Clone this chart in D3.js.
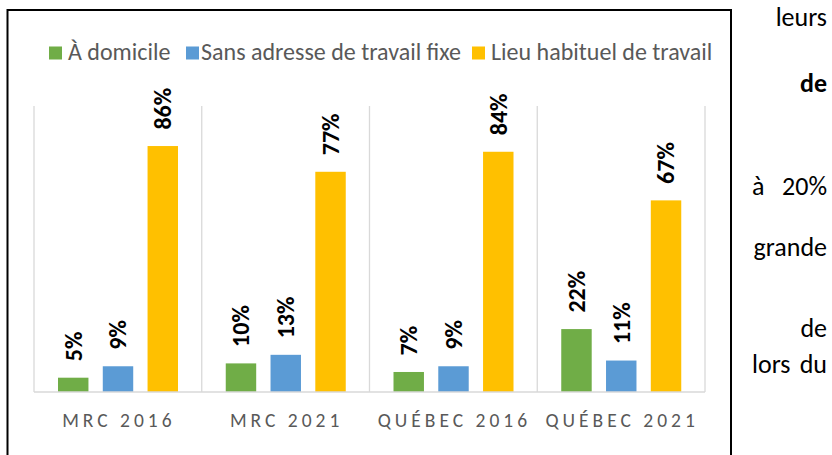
<!DOCTYPE html>
<html><head><meta charset="utf-8">
<script src="https://cdn.jsdelivr.net/npm/d3@7"></script>
<style>
body{margin:0;background:#fff;}
svg{display:block;}
</style></head>
<body>
<svg id="c" width="832" height="455"></svg>
<script>
const categories = ["MRC 2016", "MRC 2021", "QUÉBEC 2016", "QUÉBEC 2021"];
const seriesNames = ["À domicile", "Sans adresse de travail fixe", "Lieu habituel de travail"];
const domicile = [5, 10, 7, 22];
const sansAdresse = [9, 13, 9, 11];
const lieuHabituel = [86, 77, 84, 67];
const colors = ["#70AD47", "#5B9BD5", "#FFC000"];
const sideLines = [
  {w: ["leurs"], y: 26, b: false},
  {w: ["de"], y: 92, b: true},
  {w: ["à", "20%"], y: 195, b: false},
  {w: ["grande"], y: 256, b: false},
  {w: ["de"], y: 337, b: false},
  {w: ["lors", "du"], y: 373, b: false}
];

const FONT = "Carlito, Calibri, Lato, sans-serif";
const svg = d3.select("#c");
const series = [domicile, sansAdresse, lieuHabituel];

// chart border
svg.append("rect").attr("x", 7.5).attr("y", 10).attr("width", 723.5).attr("height", 470)
  .attr("fill", "#fff").attr("stroke", "#000").attr("stroke-width", 2);

const x0 = d3.scaleBand().domain(categories).range([34, 705]).paddingInner(0).paddingOuter(0);
const x1 = d3.scaleBand().domain(d3.range(3)).range([24, 144]).paddingInner(0.32).paddingOuter(0);
const y = d3.scaleLinear().domain([0, 100]).range([392, 106]);

// separators
const seps = d3.range(categories.length + 1);
svg.append("g").selectAll("line").data(seps).join("line")
  .attr("x1", i => i < categories.length ? x0(categories[i]) : x0.range()[1])
  .attr("x2", i => i < categories.length ? x0(categories[i]) : x0.range()[1])
  .attr("y1", y(100)).attr("y2", y(0))
  .attr("stroke", "#D9D9D9").attr("stroke-width", 1.3);

// bars
const g = svg.append("g");
categories.forEach((cat, ci) => {
  series.forEach((s, si) => {
    const v = s[ci];
    const bx = x0(cat) + x1(si);
    g.append("rect").attr("x", bx).attr("y", y(v)).attr("width", x1.bandwidth())
      .attr("height", y(0) - y(v)).attr("fill", colors[si]);
    const cx = bx + x1.bandwidth() / 2;
    const ly = y(v) - 16.5;
    g.append("text").attr("transform", `translate(${cx + 8.3},${ly}) rotate(-90)`)
      .attr("font-family", FONT).attr("font-weight", "bold").attr("font-size", 24)
      .attr("fill", "#000").text(v + "%");
  });
});

// baseline
svg.append("line").attr("x1", 34).attr("x2", 705).attr("y1", y(0)).attr("y2", y(0))
  .attr("stroke", "#D9D9D9").attr("stroke-width", 1.5);

// category labels
svg.append("g").selectAll("text").data(categories).join("text")
  .attr("x", d => x0(d) + x0.bandwidth() / 2 + 1).attr("y", 427)
  .attr("text-anchor", "middle").attr("font-family", FONT).attr("font-size", 19.5)
  .attr("letter-spacing", "4px").attr("fill", "#595959").text(d => d);

// legend
const legSq = [49, 186, 472];
const legTx = [68, 201, 491];
const leg = svg.append("g");
seriesNames.forEach((n, i) => {
  leg.append("rect").attr("x", legSq[i]).attr("y", 46.5).attr("width", 13).attr("height", 13).attr("fill", colors[i]);
  leg.append("text").attr("x", legTx[i]).attr("y", 59.5).attr("font-family", FONT)
    .attr("font-size", 24).attr("fill", "#595959").text(n);
});

// side text (justified fragment of page text)
const side = svg.append("g").attr("font-family", FONT).attr("font-size", 26).attr("fill", "#000");
sideLines.forEach(l => {
  if (l.w.length === 1) {
    side.append("text").attr("x", 827).attr("y", l.y).attr("text-anchor", "end")
      .attr("font-weight", l.b ? "bold" : "normal").text(l.w[0]);
  } else {
    side.append("text").attr("x", 752).attr("y", l.y).attr("text-anchor", "start")
      .attr("font-weight", l.b ? "bold" : "normal").text(l.w[0]);
    side.append("text").attr("x", 827).attr("y", l.y).attr("text-anchor", "end")
      .attr("font-weight", l.b ? "bold" : "normal").text(l.w[l.w.length - 1]);
  }
});
</script>
</body></html>
